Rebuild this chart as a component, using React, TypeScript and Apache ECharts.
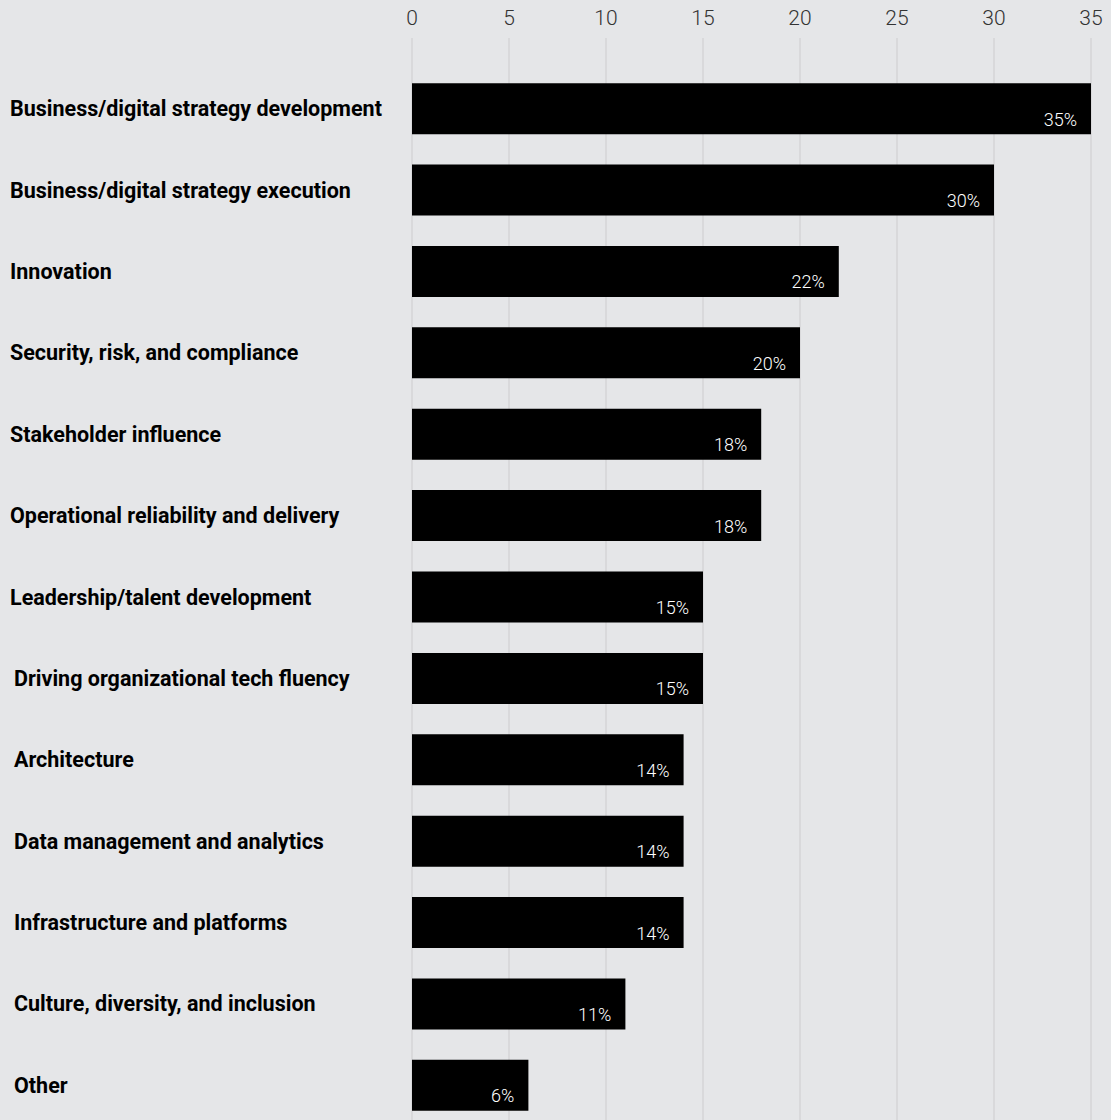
import React, { useEffect, useRef } from "react";
import * as echarts from "echarts";

const categories = [
  "Business/digital strategy development",
  "Business/digital strategy execution",
  "Innovation",
  "Security, risk, and compliance",
  "Stakeholder influence",
  "Operational reliability and delivery",
  "Leadership/talent development",
  "Driving organizational tech fluency",
  "Architecture",
  "Data management and analytics",
  "Infrastructure and platforms",
  "Culture, diversity, and inclusion",
  "Other",
];
const values = [35, 30, 22, 20, 18, 18, 15, 15, 14, 14, 14, 11, 6];
const tickValues = [0, 5, 10, 15, 20, 25, 30, 35];

export default function App() {
  const ref = useRef<HTMLDivElement>(null);
  useEffect(() => {
    document.body.style.margin = "0";
    document.body.style.overflow = "hidden";
    document.documentElement.style.overflow = "hidden";
    document.body.style.background = "#e5e6e8";
    const chart = echarts.init(ref.current!, null, { renderer: "svg" });
    const labelFont = {
      fontFamily: "Roboto",
      fontWeight: 700,
      fontSize: 21.5,
      color: "#000",
    };
    chart.setOption({
      animation: false,
      backgroundColor: "#e5e6e8",
      grid: { left: 412, right: 20, top: 68, bottom: 0, containLabel: false },
      xAxis: {
        type: "value",
        position: "top",
        min: tickValues[0],
        max: tickValues[tickValues.length - 1],
        interval: 5,
        axisLine: { show: false },
        axisTick: { show: true, length: 30, lineStyle: { color: "#d4d5d7", width: 1.5 } },
        splitLine: { show: true, lineStyle: { color: "#d4d5d7", width: 1.5 } },
        axisLabel: {
          margin: 40,
          fontFamily: "Roboto",
          fontWeight: 300,
          fontSize: 21,
          color: "#333",
        },
      },
      yAxis: {
        type: "category",
        inverse: true,
        data: categories,
        axisLine: { show: false },
        axisTick: { show: false },
        axisLabel: {
          align: "left",
          margin: 402,
          ...labelFont,
          formatter: (v: string, i: number) => (i >= 7 ? `{b|${v}}` : `{a|${v}}`),
          rich: {
            a: { ...labelFont },
            b: { ...labelFont, padding: [0, 0, 0, 4] },
          },
        },
      },
      series: [
        {
          type: "bar",
          data: values,
          barWidth: 51,
          itemStyle: { color: "#000" },
          label: {
            show: true,
            position: "insideBottomRight",
            distance: 6,
            offset: [-8, 0],
            formatter: "{c}%",
            color: "#fff",
            fontFamily: "Roboto",
            fontWeight: 300,
            fontSize: 18,
          },
        },
      ],
    });
    return () => chart.dispose();
  }, []);
  return <div ref={ref} style={{ width: 1111, height: 1126 }} />;
}
